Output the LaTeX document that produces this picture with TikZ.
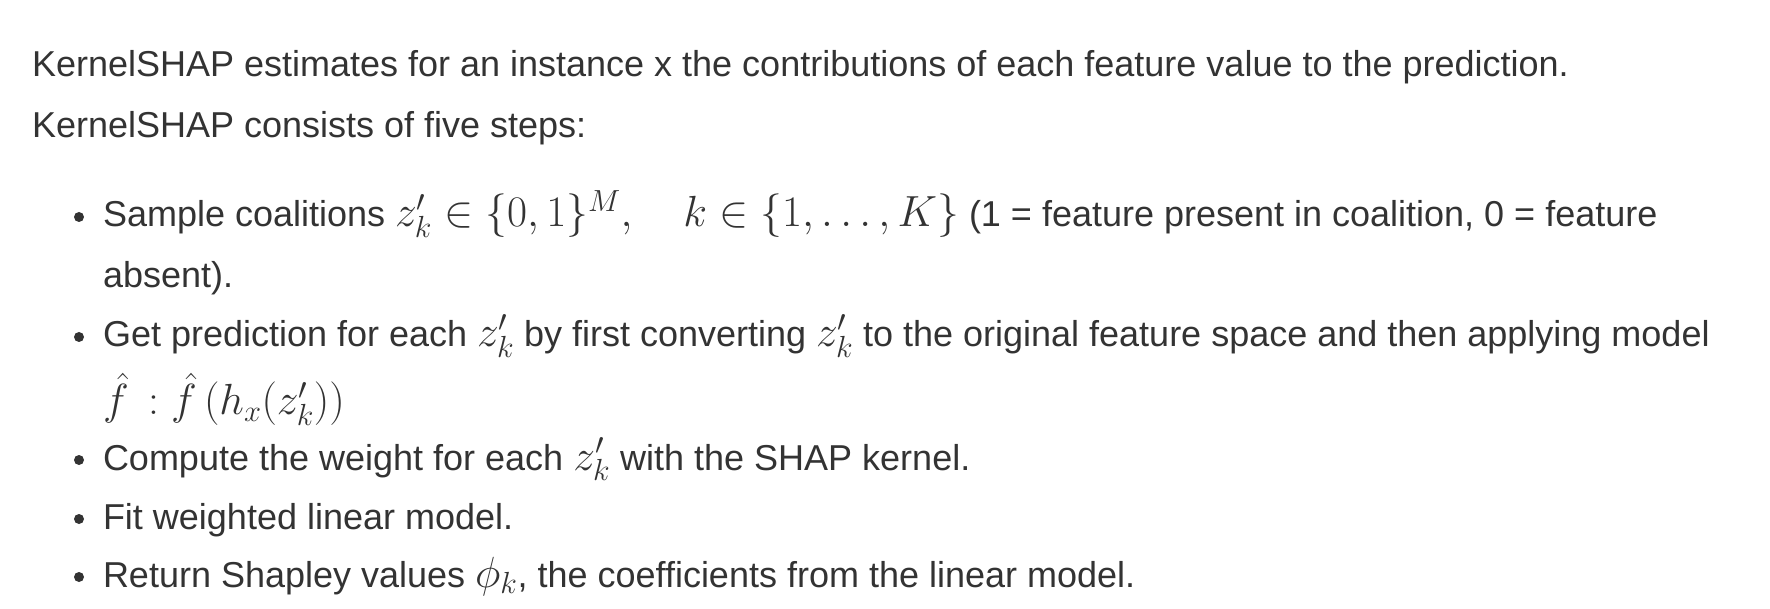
\RequirePackage{fix-cm}
\documentclass[tikz,border=0pt]{standalone}
\usepackage{fontspec}
\setmainfont{Liberation Sans}
\definecolor{txt}{HTML}{333333}
\newcommand\kmath[1]{{\fontsize{43.6}{50}\selectfont$#1$}}
\begin{document}
\begin{tikzpicture}[x=1pt,y=-1pt,
  textline/.style={anchor=base west, inner sep=0pt, outer sep=0pt, text=txt, font=\fontsize{36}{42}\selectfont},
  bulletdot/.style={fill=txt}]
\useasboundingbox (0,0) rectangle (1770,609);
\node[textline] (l1) at (32,77) {KernelSHAP estimates for an instance x the contributions of each feature value to the prediction.};
\node[textline] (l2) at (32,138) {KernelSHAP consists of five steps:};
\node[textline] (b1a) at (103,227) {Sample coalitions \kmath{z'_k \in \{0,1\}^M, \quad k\in\{1,\ldots,K\}} (1 = feature present in coalition, 0 = feature};
\node[textline] (b1b) at (103,288) {absent).};
\node[textline] (b2a) at (103,347) {Get prediction for each \kmath{z'_k} by first converting \kmath{z'_k} to the original feature space and then applying model};
\node[textline] (b2b) at (103,415) {\kmath{\hat{f}\,:\hat{f}\,(h_x(z'_k))}};
\node[textline] (b3) at (103,470) {Compute the weight for each \kmath{z'_k} with the SHAP kernel.};
\node[textline] (b4) at (103,529) {Fit weighted linear model.};
\node[textline] (b5) at (103,587) {Return Shapley values \kmath{\phi_k}, the coefficients from the linear model.};
\foreach \yy in {227,347,470,529,587}
  \fill[bulletdot] (79,\yy-10) circle (5);
\end{tikzpicture}
\end{document}
